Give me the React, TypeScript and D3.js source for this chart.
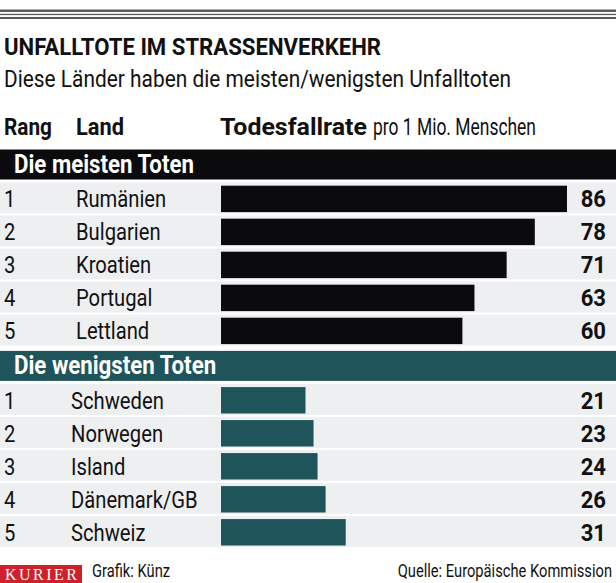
import React from 'react';
import * as d3 from 'd3';

const ranks = ['1', '2', '3', '4', '5'];
const sectionTitles = ['Die meisten Toten', 'Die wenigsten Toten'];
const topCountries = ['Rumänien', 'Bulgarien', 'Kroatien', 'Portugal', 'Lettland'];
const topValues = [86, 78, 71, 63, 60];
const bottomCountries = ['Schweden', 'Norwegen', 'Island', 'Dänemark/GB', 'Schweiz'];
const bottomValues = [21, 23, 24, 26, 31];

const W = 616;
const H = 583;
const FONT = 'Roboto, "Open Sans", sans-serif';
const SX = 0.86; // horizontal condensing of labels

const sections = [
  { title: sectionTitles[0], countries: topCountries, values: topValues, color: '#0b0b0d', nameX: 76 },
  { title: sectionTitles[1], countries: bottomCountries, values: bottomValues, color: '#1e545a', nameX: 71 },
];

function CText({ x, y, sx = SX, anchor = 'start', size = 23.5, weight = 400, fill = '#111', children }: any) {
  return (
    <g transform={`translate(${x},${y}) scale(${sx},1)`}>
      <text x={0} y={0} textAnchor={anchor} fontSize={size} fontWeight={weight} fill={fill} fontFamily={FONT}>
        {children}
      </text>
    </g>
  );
}

export default function App() {
  const x = d3.scaleLinear().domain([0, 86]).range([221, 567]);
  const idx = ranks.map((_, i) => i);

  return (
    <svg width={W} height={H} viewBox={`0 0 ${W} ${H}`}
      style={{ position: 'absolute', left: 0, top: 0, display: 'block', background: '#fff' }}>
      <rect x={0} y={0} width={W} height={H} fill="#fff" />
      {/* top rules */}
      <rect x={0} y={9.5} width={W} height={2.5} fill="#5c5c5c" />
      <rect x={0} y={13.8} width={W} height={1.3} fill="#5c5c5c" />
      <rect x={0} y={17} width={W} height={2} fill="#5c5c5c" />

      <text x={4} y={55} fontFamily={FONT} fontWeight={700} fontSize={24.5} fill="#111"
        textLength={377} lengthAdjust="spacingAndGlyphs">UNFALLTOTE IM STRASSENVERKEHR</text>
      <text x={4} y={87} fontFamily={FONT} fontWeight={400} fontSize={23} fill="#111"
        textLength={507} lengthAdjust="spacingAndGlyphs">Diese Länder haben die meisten/wenigsten Unfalltoten</text>

      <text x={4} y={135} fontFamily={FONT} fontWeight={700} fontSize={24} fill="#111"
        textLength={48} lengthAdjust="spacingAndGlyphs">Rang</text>
      <text x={76} y={135} fontFamily={FONT} fontWeight={700} fontSize={24} fill="#111"
        textLength={48} lengthAdjust="spacingAndGlyphs">Land</text>
      <text x={220} y={135} fontFamily={FONT} fontWeight={700} fontSize={23.5} fill="#111"
        textLength={147} lengthAdjust="spacingAndGlyphs">Todesfallrate</text>
      <text x={373} y={135} fontFamily={FONT} fontWeight={400} fontSize={23} fill="#111"
        textLength={163} lengthAdjust="spacingAndGlyphs">pro 1 Mio. Menschen</text>

      {sections.map((s, k) => {
        const top = 149.5 + k * 201.4;
        const y = d3.scaleBand<number>().domain(idx).range([top + 32, top + 32 + 165])
          .paddingInner(0.06).paddingOuter(0.03);
        return (
          <g key={k}>
            <rect x={0} y={top} width={W} height={30} fill={s.color} />
            <CText x={14} y={top + 23.5} size={25} weight={700} fill="#fff" sx={0.89}>{s.title}</CText>
            {idx.map((i) => {
              const by = (y(i) as number);
              const bw = y.bandwidth();
              const barTop = by + 3.2;
              const barH = bw - 4.6;
              const base = barTop + barH / 2 + 8.5;
              return (
                <g key={i}>
                  <rect x={0} y={by} width={W} height={bw} fill="#eeeff1" />
                  <rect x={x(0)} y={barTop} width={x(s.values[i]) - x(0)} height={barH} fill={s.color} />
                  <CText x={4} y={base}>{ranks[i]}</CText>
                  <CText x={s.nameX} y={base}>{s.countries[i]}</CText>
                  <CText x={606} y={base} anchor="end" weight={700} size={24} sx={0.92}>{s.values[i]}</CText>
                </g>
              );
            })}
          </g>
        );
      })}

      {/* footer */}
      <rect x={0} y={565} width={82} height={18} fill="#d0202a" />
      <text x={41} y={579.5} textAnchor="middle" fontFamily='"Liberation Serif", "DejaVu Serif", serif'
        fontWeight={400} fontSize={16} fill="#fff" textLength={72} lengthAdjust="spacing">KURIER</text>
      <CText x={92} y={576.5} size={17.5} sx={0.84}>Grafik: Künz</CText>
      <CText x={612} y={576.5} size={17.5} sx={0.84} anchor="end">Quelle: Europäische Kommission</CText>
    </svg>
  );
}
